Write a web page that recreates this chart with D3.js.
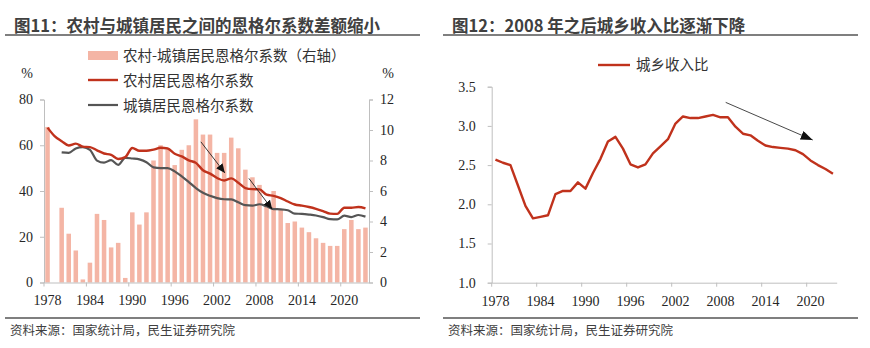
<!DOCTYPE html>
<html>
<head>
<meta charset="utf-8">
<script src="https://cdn.jsdelivr.net/npm/d3@7/dist/d3.min.js"></script>
<style>
  body { margin: 0; background: #fff; }
  svg { display: block; }
  .num { font-family: "Liberation Serif", "Times New Roman", serif; font-size: 14px; fill: #262626; }
  .cjk { font-family: "Noto Sans CJK SC", sans-serif; }
</style>
</head>
<body>
<script>
///////////////////////////
// DATA
var years = [1978,1979,1980,1981,1982,1983,1984,1985,1986,1987,1988,1989,1990,1991,1992,1993,
  1994,1995,1996,1997,1998,1999,2000,2001,2002,2003,2004,2005,2006,2007,2008,2009,2010,2011,
  2012,2013,2014,2015,2016,2017,2018,2019,2020,2021,2022,2023];
var tickYears = [1978,1984,1990,1996,2002,2008,2014,2020];

// rural Engel coefficient, %
var rural = [67.7,64.0,61.8,59.9,60.7,59.4,59.2,57.8,56.4,55.8,54.0,54.8,58.8,57.6,57.6,58.1,
  58.9,58.6,56.3,55.1,53.4,52.3,49.1,47.6,45.7,44.6,45.5,43.6,41.3,40.8,40.7,38.4,37.9,36.9,
  35.4,34.1,33.6,33.0,32.2,31.2,30.1,30.0,32.7,32.7,33.0,32.4];
// urban Engel coefficient, % (no data for 1978-1979 in the line)
var urban = [null,null,56.9,56.7,58.6,59.2,58.0,53.3,52.4,53.5,51.4,54.5,54.2,53.8,52.6,50.3,
  50.0,50.0,48.6,46.4,43.9,41.3,39.2,37.9,36.9,36.4,36.3,35.1,33.8,33.6,34.2,33.3,32.1,32.0,
  31.6,30.1,30.0,29.7,29.3,28.6,27.7,27.6,29.2,28.6,29.5,28.8];
// rural minus urban, right axis
var gap = [10.2,null,4.9,3.2,2.1,0.2,1.3,4.5,4.1,2.3,2.6,0.3,4.6,3.8,4.6,8.0,
  9.0,8.7,7.7,8.7,9.0,10.7,9.7,9.7,8.5,8.5,9.5,8.8,7.4,6.9,6.4,5.0,6.0,4.8,
  3.9,4.0,3.6,3.3,2.9,2.6,2.4,2.4,3.5,4.1,3.5,3.6];
// urban / rural income ratio
var ratio = [2.57,2.53,2.50,2.24,1.98,1.82,1.84,1.86,2.13,2.17,2.17,2.28,2.20,2.40,2.58,2.80,
  2.86,2.71,2.51,2.47,2.51,2.65,2.74,2.83,3.03,3.12,3.10,3.10,3.12,3.14,3.11,3.11,2.99,2.90,
  2.88,2.81,2.75,2.73,2.72,2.71,2.69,2.64,2.56,2.50,2.45,2.39];

var leftTicks = [0,20,40,60,80];
var rightTicks = [0,2,4,6,8,10,12];
var ratioTicks = [1.0,1.5,2.0,2.5,3.0,3.5];

var titleL = "图11：农村与城镇居民之间的恩格尔系数差额缩小";
var titleR = "图12：2008 年之后城乡收入比逐渐下降";
var source = "资料来源：国家统计局，民生证券研究院";
var legendL = ["农村-城镇居民恩格尔系数（右轴）", "农村居民恩格尔系数", "城镇居民恩格尔系数"];
var legendR = "城乡收入比";

// arrows in data units [year, value]
var arrowsL = [[[1999.7, 61.5], [2003.1, 47.9]], [[2006.5, 45.5], [2009.8, 32.0]]];
var arrowR = [[2008.7, 3.30], [2020.3, 2.82]];

var barColor = "#f4b5a5", redColor = "#c0321c", greyColor = "#555555", axisColor = "#bfbfbf";

///////////////////////////
// SVG
var width = 870, height = 348;
var svg = d3.select("body").append("svg")
  .attr("width", width)
  .attr("height", height);

var defs = svg.append("defs");
function mkMarker(id, w, h) {
  defs.append("marker")
    .attr("id", id)
    .attr("markerUnits", "userSpaceOnUse")
    .attr("viewBox", "0 0 " + w + " " + h)
    .attr("refX", w).attr("refY", h / 2)
    .attr("markerWidth", w).attr("markerHeight", h)
    .attr("orient", "auto")
    .append("path")
    .attr("d", "M0,0L" + w + "," + (h / 2) + "L0," + h + "Z")
    .attr("fill", "#111");
}
mkMarker("headS", 9, 8);
mkMarker("headL", 12, 9);

// titles, rules, source notes
function frame(x0, x1, title, tx) {
  svg.append("text").attr("class", "cjk")
    .attr("x", tx).attr("y", 32)
    .attr("font-size", "16.5px").attr("font-weight", "bold").attr("fill", "#404040")
    .text(title);
  svg.append("line").attr("x1", x0).attr("x2", x1).attr("y1", 35).attr("y2", 35)
    .attr("stroke", "#555").attr("stroke-width", 1.5);
  svg.append("line").attr("x1", x0).attr("x2", x1).attr("y1", 318).attr("y2", 318)
    .attr("stroke", "#555").attr("stroke-width", 1.3);
  svg.append("text").attr("class", "cjk")
    .attr("x", tx - 4).attr("y", 335)
    .attr("font-size", "12.5px").attr("fill", "#404040")
    .text(source);
}
frame(5, 420, titleL, 14);
frame(443, 858, titleR, 452);

function styleAxis(g) {
  g.selectAll(".domain").attr("stroke", axisColor);
  g.selectAll(".tick line").attr("stroke", axisColor);
  g.selectAll(".tick text").attr("class", "num").attr("font-size", null).attr("font-family", null);
}

///////////////////////////
// LEFT CHART
var xL = d3.scaleBand().domain(years).range([44, 369]).paddingInner(0.36).paddingOuter(0.18);
var yL = d3.scaleLinear().domain([0, 80]).range([282.5, 99.5]);
var yR = d3.scaleLinear().domain([0, 12]).range([282.5, 99.5]);
var halfGap = xL.step() * xL.paddingInner() / 2;
var xLc = d3.scaleLinear().domain([1978, 2023])
  .range([xL(1978) + xL.bandwidth() / 2, xL(2023) + xL.bandwidth() / 2]);

var left = svg.append("g");

left.append("g").selectAll("rect")
  .data(years.filter(function(d, i){ return gap[i] != null; }))
  .enter().append("rect")
  .attr("x", function(d){ return xL(d); })
  .attr("width", xL.bandwidth())
  .attr("y", function(d){ return yR(gap[years.indexOf(d)]); })
  .attr("height", function(d){ return yR(0) - yR(gap[years.indexOf(d)]); })
  .attr("fill", barColor);

var lineL = d3.line()
  .defined(function(d){ return d[1] != null; })
  .x(function(d){ return xL(d[0]) + xL.bandwidth() / 2; })
  .y(function(d){ return yL(d[1]); })
  .curve(d3.curveMonotoneX);

left.append("path")
  .datum(years.map(function(y, i){ return [y, urban[i]]; }))
  .attr("d", lineL).attr("fill", "none")
  .attr("stroke", greyColor).attr("stroke-width", 2.2);
left.append("path")
  .datum(years.map(function(y, i){ return [y, rural[i]]; }))
  .attr("d", lineL).attr("fill", "none")
  .attr("stroke", redColor).attr("stroke-width", 2.4);

// axes
var axL = left.append("g").attr("transform", "translate(44,0)")
  .call(d3.axisLeft(yL).tickValues(leftTicks).tickSize(4).tickPadding(7));
styleAxis(axL);
var axR = left.append("g").attr("transform", "translate(369,0)")
  .call(d3.axisRight(yR).tickValues(rightTicks).tickSize(4).tickPadding(7));
styleAxis(axR);
var axB = left.append("g").attr("transform", "translate(0,282.5)")
  .call(d3.axisBottom(xL).tickValues(tickYears).tickSize(0).tickPadding(13));
styleAxis(axB);
axB.selectAll(".tick").append("line")
  .attr("x1", -xL.bandwidth() / 2 - halfGap).attr("x2", -xL.bandwidth() / 2 - halfGap)
  .attr("y1", 0).attr("y2", 4).attr("stroke", axisColor);

left.append("text").attr("class", "num").attr("x", 27).attr("y", 78).attr("text-anchor", "middle").text("%");
left.append("text").attr("class", "num").attr("x", 388).attr("y", 78).attr("text-anchor", "middle").text("%");

arrowsL.forEach(function(a) {
  left.append("line")
    .attr("x1", xLc(a[0][0])).attr("y1", yL(a[0][1]))
    .attr("x2", xLc(a[1][0])).attr("y2", yL(a[1][1]))
    .attr("stroke", "#222").attr("stroke-width", 0.9)
    .attr("marker-end", "url(#headS)");
});

// legend
var lg = left.append("g");
lg.append("rect").attr("x", 88).attr("y", 51).attr("width", 30).attr("height", 9).attr("fill", barColor);
lg.append("line").attr("x1", 88).attr("x2", 118).attr("y1", 80).attr("y2", 80)
  .attr("stroke", redColor).attr("stroke-width", 2.4);
lg.append("line").attr("x1", 88).attr("x2", 118).attr("y1", 105).attr("y2", 105)
  .attr("stroke", greyColor).attr("stroke-width", 2.2);
lg.selectAll("text").data(legendL).enter().append("text")
  .attr("class", "cjk")
  .attr("x", 123)
  .attr("y", function(d, i){ return 55.5 + i * 25; })
  .attr("dy", "0.36em")
  .attr("font-size", "14.5px").attr("fill", "#333")
  .text(function(d){ return d; });

///////////////////////////
// RIGHT CHART
var xR = d3.scaleBand().domain(years).range([491.7, 836.7]);
var yI = d3.scaleLinear().domain([1.0, 3.5]).range([282.7, 86.7]);
var xRc = d3.scaleLinear().domain([1978, 2023])
  .range([xR(1978) + xR.bandwidth() / 2, xR(2023) + xR.bandwidth() / 2]);

var right = svg.append("g");

right.append("path")
  .datum(years.map(function(y, i){ return [y, ratio[i]]; }))
  .attr("d", d3.line()
    .x(function(d){ return xR(d[0]) + xR.bandwidth() / 2; })
    .y(function(d){ return yI(d[1]); }))
  .attr("fill", "none").attr("stroke", redColor).attr("stroke-width", 2.4)
  .attr("stroke-linejoin", "round");

var axI = right.append("g").attr("transform", "translate(491.7,0)")
  .call(d3.axisLeft(yI).tickValues(ratioTicks).tickFormat(d3.format(".1f")).tickSize(4).tickPadding(12));
styleAxis(axI);
var axB2 = right.append("g").attr("transform", "translate(0,282.7)")
  .call(d3.axisBottom(xR).tickValues(tickYears).tickSize(0).tickPadding(13));
styleAxis(axB2);
axB2.selectAll(".tick").append("line")
  .attr("x1", -xR.bandwidth() / 2).attr("x2", -xR.bandwidth() / 2)
  .attr("y1", 0).attr("y2", 4).attr("stroke", axisColor);

right.append("line")
  .attr("x1", xRc(arrowR[0][0])).attr("y1", yI(arrowR[0][1]))
  .attr("x2", xRc(arrowR[1][0])).attr("y2", yI(arrowR[1][1]))
  .attr("stroke", "#333").attr("stroke-width", 0.9)
  .attr("marker-end", "url(#headL)");

right.append("line").attr("x1", 598).attr("x2", 630).attr("y1", 65).attr("y2", 65)
  .attr("stroke", redColor).attr("stroke-width", 2.4);
right.append("text").attr("class", "cjk")
  .attr("x", 636).attr("y", 65).attr("dy", "0.36em")
  .attr("font-size", "14.5px").attr("fill", "#333")
  .text(legendR);
</script>
</body>
</html>
